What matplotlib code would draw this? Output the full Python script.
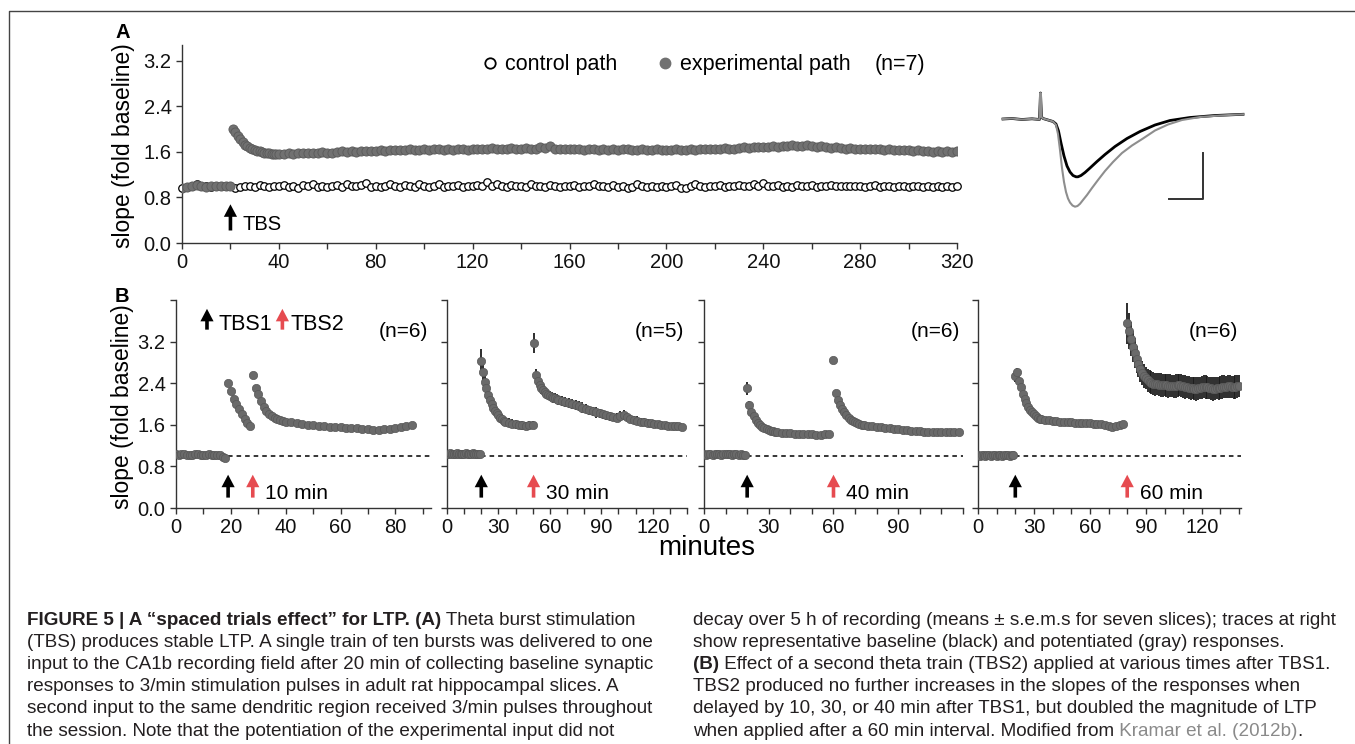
import numpy as np
import matplotlib
matplotlib.use('Agg')
import matplotlib.pyplot as plt
from matplotlib.lines import Line2D

W, H = 1355, 744
plt.rcParams['font.family'] = ['Liberation Sans', 'DejaVu Sans']

# ---------------- Panel A data ----------------
ctrl_t = np.arange(0, 321, 2)
ctrl_y = [0.97, 0.99, 1.01, 1.04, 1.01, 1.00, 0.99, 1.00, 1.01, 1.00, 1.00, 0.96, 0.99, 1.01, 1.00, 0.99, 1.02, 1.00, 0.98, 1.00,
          1.01, 1.02, 0.99, 1.01, 0.97, 1.02, 1.00, 1.03, 0.98, 1.01, 0.99, 1.01, 1.02, 0.99, 1.03, 1.00, 1.01, 1.02, 1.05, 0.99,
          1.00, 0.98, 1.01, 1.03, 1.00, 0.99, 1.02, 1.01, 0.98, 1.03, 1.01, 0.99, 1.00, 1.03, 0.98, 1.01, 1.00, 1.02, 0.99, 1.01,
          1.00, 1.02, 1.01, 1.07, 1.00, 1.03, 1.01, 0.99, 1.02, 1.00, 1.01, 0.99, 1.03, 1.00, 1.01, 0.98, 1.02, 1.01, 0.99, 1.01,
          1.00, 1.02, 0.99, 1.01, 1.00, 1.03, 1.00, 1.01, 0.99, 1.02, 0.98, 1.01, 0.97, 0.99, 1.03, 1.00, 0.98, 1.01, 0.99, 1.00,
          0.98, 1.00, 1.02, 0.97, 0.97, 1.01, 1.04, 1.00, 0.99, 1.01, 1.00, 1.02, 0.99, 1.01, 1.00, 1.02, 1.01, 1.00, 1.03, 1.01,
          1.05, 1.01, 1.00, 1.02, 0.99, 1.01, 0.99, 1.02, 1.00, 1.01, 1.02, 0.99, 1.01, 1.00, 1.02, 1.01, 1.00, 1.01, 1.00, 1.01,
          1.00, 0.99, 1.01, 1.02, 0.99, 1.00, 1.01, 0.98, 1.00, 1.01, 0.99, 1.00, 1.01, 0.98, 1.00, 0.99, 1.01, 0.99, 1.00, 0.99,
          1.00]
exp_t = np.r_[np.arange(0, 21, 2), np.arange(21, 41), np.arange(42, 321, 2)]
exp_y = [0.97, 0.99, 1.00, 1.02, 1.00, 0.99, 1.00, 1.00, 1.01, 1.00, 1.00,
         2.01, 1.95, 1.88, 1.82, 1.77, 1.73, 1.70, 1.67, 1.65, 1.63, 1.62, 1.61, 1.60, 1.59, 1.58, 1.58, 1.57, 1.57, 1.56, 1.57,
         1.57, 1.58, 1.57, 1.59, 1.58, 1.58, 1.59, 1.58, 1.60, 1.59, 1.59, 1.60, 1.61, 1.60, 1.61, 1.60, 1.61, 1.62, 1.61, 1.62,
         1.63, 1.62, 1.63, 1.64, 1.63, 1.64, 1.65, 1.64, 1.64, 1.65, 1.64, 1.65, 1.66, 1.64, 1.65, 1.64, 1.66, 1.65, 1.64, 1.66,
         1.65, 1.66, 1.65, 1.67, 1.66, 1.65, 1.66, 1.67, 1.66, 1.65, 1.67, 1.66, 1.65, 1.68, 1.67, 1.70, 1.66, 1.65, 1.66, 1.65,
         1.66, 1.65, 1.64, 1.66, 1.65, 1.64, 1.65, 1.63, 1.65, 1.64, 1.66, 1.65, 1.64, 1.63, 1.65, 1.64, 1.63, 1.65, 1.64, 1.63,
         1.64, 1.65, 1.64, 1.63, 1.65, 1.64, 1.66, 1.65, 1.66, 1.65, 1.66, 1.67, 1.66, 1.65, 1.67, 1.68, 1.67, 1.68, 1.69, 1.68,
         1.69, 1.70, 1.69, 1.71, 1.70, 1.72, 1.71, 1.70, 1.72, 1.71, 1.69, 1.70, 1.68, 1.67, 1.68, 1.67, 1.66, 1.67, 1.66, 1.65,
         1.66, 1.65, 1.66, 1.65, 1.64, 1.65, 1.64, 1.63, 1.64, 1.63, 1.62, 1.63, 1.62, 1.61, 1.60, 1.61, 1.60, 1.61, 1.60, 1.61]
tbsA_time = 20

# representative traces (arbitrary units, inverted y)
trace_bk_x = [1003, 1012, 1022, 1032, 1039.5, 1040.5, 1041.5, 1043, 1048, 1053, 1056, 1058.5, 1061, 1064, 1067, 1070, 1073,
              1076, 1078, 1081, 1085, 1090, 1097, 1105, 1115, 1127, 1140, 1155, 1170, 1190, 1215, 1243]
trace_bk_y = [119, 118.5, 119.5, 118.8, 119.5, 93, 117, 118.5, 120, 121.5, 124, 131, 143, 156, 166, 172, 175.5,
              176.8, 176.8, 175.5, 172.5, 168, 161.5, 154.5, 146.5, 138.5, 131.5, 125, 120.5, 117.5, 115.5, 114.3]
trace_gr_x = [1003, 1012, 1022, 1032, 1039.5, 1040.5, 1041.5, 1043, 1048, 1053, 1056, 1058, 1060, 1062, 1064, 1066, 1068,
              1070, 1072.5, 1075, 1077.5, 1080, 1083, 1087, 1092, 1098, 1105, 1113, 1122, 1132, 1143, 1155, 1168, 1182,
              1200, 1220, 1243]
trace_gr_y = [119, 118.5, 119.5, 118.8, 119.5, 93, 117, 118.5, 120, 121.5, 125, 134, 150, 168, 182, 192, 198.5,
              202.5, 205.5, 206.7, 206, 203.8, 200, 195, 188, 180, 171, 162, 153, 145.5, 138.5, 130.5, 124.5, 120,
              117, 115.5, 114.3]
scalebar_x = [1169.3, 1203.3, 1203.3]
scalebar_y = [199.3, 199.3, 152.7]

# ---------------- Panel B data ----------------
b1_t = np.r_[np.arange(0, 41), np.arange(42, 87, 2)]
b1_y = [1.03, 1.02, 1.03, 1.04, 1.02, 1.01, 1.02, 1.03, 1.03, 1.02, 1.01, 1.02, 1.03, 1.02, 1.01, 1.02, 1.01, 0.99, 0.97,
        2.40, 2.25, 2.10, 2.00, 1.90, 1.80, 1.71, 1.63, 1.57,
        2.55, 2.31, 2.19, 2.05, 1.94, 1.86, 1.80, 1.76, 1.73, 1.71, 1.69, 1.67, 1.66,
        1.65, 1.63, 1.61, 1.60, 1.59, 1.58, 1.57, 1.56, 1.56, 1.55, 1.54, 1.53, 1.53, 1.52, 1.51, 1.50, 1.50, 1.51,
        1.52, 1.53, 1.55, 1.57, 1.59]
b1_e = [0.02, 0.02, 0.02, 0.02, 0.02, 0.02, 0.02, 0.02, 0.02, 0.02, 0.02, 0.02, 0.02, 0.02, 0.02, 0.02, 0.02, 0.02, 0.02,
        0.06, 0.05, 0.05, 0.04, 0.04, 0.04, 0.03, 0.03, 0.03,
        0.07, 0.05, 0.05, 0.04, 0.04, 0.04, 0.03, 0.03, 0.03, 0.03, 0.03, 0.03, 0.03,
        0.03, 0.03, 0.03, 0.03, 0.03, 0.03, 0.03, 0.03, 0.03, 0.03, 0.03, 0.03, 0.03, 0.03, 0.03, 0.03, 0.03, 0.03,
        0.03, 0.03, 0.03, 0.03, 0.03]

b2_t = np.r_[np.arange(0, 35), np.arange(36, 51, 2), np.arange(51, 66), np.arange(67, 138, 2)]
b2_y = [1.04, 1.03, 1.05, 1.04, 1.03, 1.04, 1.05, 1.03, 1.04, 1.04, 1.03, 1.05, 1.04, 1.03, 1.04, 1.05, 1.04, 1.03, 1.03, 1.04,
        2.82, 2.62, 2.42, 2.30, 2.18, 2.08, 2.00, 1.93, 1.87, 1.82, 1.78, 1.74, 1.71, 1.68, 1.66,
        1.64, 1.62, 1.61, 1.60, 1.59, 1.58, 1.59, 1.60,
        3.17, 2.55, 2.45, 2.36, 2.30, 2.26, 2.23, 2.20, 2.17, 2.15, 2.13, 2.12, 2.11, 2.10, 2.08,
        2.06, 2.04, 2.02, 2.00, 1.98, 1.96, 1.93, 1.91, 1.88, 1.86, 1.84, 1.82, 1.80, 1.78, 1.76, 1.75, 1.74, 1.77,
        1.79, 1.75, 1.71, 1.69, 1.68, 1.66, 1.65, 1.64, 1.63, 1.62, 1.61, 1.60, 1.59, 1.58, 1.58, 1.57, 1.57, 1.56]
b2_e = [0.03, 0.03, 0.03, 0.03, 0.03, 0.03, 0.03, 0.03, 0.03, 0.03, 0.03, 0.03, 0.03, 0.03, 0.03, 0.03, 0.03, 0.03, 0.03, 0.03,
        0.23, 0.18, 0.15, 0.14, 0.13, 0.12, 0.12, 0.11, 0.11, 0.10, 0.10, 0.10, 0.09, 0.09, 0.09,
        0.09, 0.09, 0.09, 0.08, 0.09, 0.08, 0.09, 0.08,
        0.19, 0.13, 0.12, 0.11, 0.11, 0.10, 0.10, 0.10, 0.10, 0.10, 0.10, 0.10, 0.10, 0.09, 0.09,
        0.09, 0.10, 0.09, 0.10, 0.09, 0.09, 0.10, 0.09, 0.09, 0.09, 0.10, 0.09, 0.09, 0.09, 0.09, 0.08, 0.09, 0.10,
        0.09, 0.08, 0.08, 0.08, 0.08, 0.07, 0.08, 0.07, 0.07, 0.08, 0.07, 0.07, 0.07, 0.07, 0.06, 0.07, 0.06, 0.06]

b3_t = np.r_[np.arange(0, 35), np.arange(36, 59, 2), np.arange(60, 75), np.arange(76, 119, 2)]
b3_y = [1.03, 1.02, 1.03, 1.03, 1.02, 1.03, 1.04, 1.03, 1.02, 1.03, 1.03, 1.04, 1.03, 1.02, 1.03, 1.03, 1.02, 1.03, 1.02, 1.02,
        2.30, 1.99, 1.85, 1.76, 1.69, 1.64, 1.60, 1.56, 1.54, 1.52, 1.50, 1.49, 1.48, 1.47, 1.46,
        1.45, 1.44, 1.44, 1.43, 1.43, 1.42, 1.42, 1.42, 1.41, 1.41, 1.42, 1.42,
        2.85, 2.22, 2.08, 1.98, 1.90, 1.84, 1.78, 1.74, 1.70, 1.67, 1.65, 1.63, 1.61, 1.60, 1.59,
        1.58, 1.57, 1.56, 1.55, 1.54, 1.53, 1.52, 1.51, 1.50, 1.50, 1.49, 1.48, 1.48, 1.47, 1.47, 1.46, 1.46, 1.46,
        1.46, 1.47, 1.47, 1.47]
b3_e = [0.02, 0.02, 0.02, 0.02, 0.02, 0.02, 0.02, 0.02, 0.02, 0.02, 0.02, 0.02, 0.02, 0.02, 0.02, 0.02, 0.02, 0.02, 0.02, 0.02,
        0.12, 0.06, 0.05, 0.05, 0.04, 0.04, 0.03, 0.03, 0.03, 0.03, 0.03, 0.03, 0.03, 0.03, 0.03,
        0.03, 0.03, 0.03, 0.03, 0.03, 0.03, 0.03, 0.03, 0.03, 0.03, 0.03, 0.03,
        0.05, 0.05, 0.04, 0.04, 0.04, 0.03, 0.03, 0.03, 0.03, 0.03, 0.03, 0.03, 0.03, 0.03, 0.03,
        0.03, 0.03, 0.03, 0.03, 0.03, 0.03, 0.03, 0.03, 0.03, 0.03, 0.03, 0.03, 0.03, 0.03, 0.03, 0.03, 0.03, 0.03,
        0.03, 0.03, 0.03, 0.03]

b4_t = np.r_[np.arange(0, 35), np.arange(36, 79, 2), np.arange(80, 141)]
b4_y = [1.01, 1.00, 1.02, 1.01, 1.00, 1.01, 1.02, 1.00, 1.01, 1.01, 1.00, 1.02, 1.01, 1.00, 1.01, 1.02, 1.01, 1.00, 1.01, 1.01,
        2.53, 2.62, 2.45, 2.32, 2.20, 2.10, 2.01, 1.94, 1.88, 1.84, 1.80, 1.77, 1.74, 1.72, 1.71,
        1.70, 1.69, 1.68, 1.67, 1.66, 1.66, 1.65, 1.65, 1.64, 1.64, 1.63, 1.63, 1.63, 1.62, 1.62, 1.61, 1.59, 1.57,
        1.56, 1.57, 1.59, 1.61,
        3.55, 3.40, 3.25, 3.10, 2.98, 2.86, 2.76, 2.67, 2.60, 2.54, 2.50, 2.46, 2.43, 2.41, 2.39,
        2.38, 2.38, 2.37, 2.37, 2.36, 2.36, 2.36, 2.35, 2.35, 2.35,
        2.34, 2.35, 2.36, 2.36, 2.35, 2.34, 2.33, 2.32, 2.31, 2.30,
        2.30, 2.29, 2.29, 2.30, 2.31, 2.32, 2.33, 2.33, 2.32, 2.31,
        2.30, 2.29, 2.29, 2.30, 2.30, 2.31, 2.32, 2.33, 2.33, 2.34,
        2.34, 2.33, 2.32, 2.33, 2.34, 2.34]
b4_e = [0.02, 0.02, 0.02, 0.02, 0.02, 0.02, 0.02, 0.02, 0.02, 0.02, 0.02, 0.02, 0.02, 0.02, 0.02, 0.02, 0.02, 0.02, 0.02, 0.02,
        0.10, 0.08, 0.07, 0.06, 0.05, 0.05, 0.04, 0.04, 0.04, 0.04, 0.04, 0.04, 0.04, 0.04, 0.04,
        0.04, 0.04, 0.04, 0.04, 0.04, 0.04, 0.04, 0.04, 0.04, 0.04, 0.04, 0.04, 0.04, 0.04, 0.04, 0.04, 0.04, 0.04,
        0.04, 0.04, 0.04, 0.04,
        0.40, 0.35, 0.32, 0.30, 0.28, 0.26, 0.25, 0.24, 0.23, 0.23, 0.22, 0.22, 0.22, 0.22, 0.22,
        0.22, 0.21, 0.22, 0.23, 0.22, 0.21, 0.22, 0.23, 0.22, 0.21,
        0.22, 0.23, 0.22, 0.21, 0.22, 0.22, 0.23, 0.21, 0.22, 0.22,
        0.21, 0.22, 0.23, 0.22, 0.21, 0.22, 0.22, 0.23, 0.22, 0.21,
        0.22, 0.23, 0.22, 0.21, 0.22, 0.22, 0.23, 0.22, 0.21, 0.22,
        0.22, 0.21, 0.22, 0.23, 0.22, 0.21]

b_times = [b1_t, b2_t, b3_t, b4_t]
b_means = [b1_y, b2_y, b3_y, b4_y]
b_sems = [b1_e, b2_e, b3_e, b4_e]
tbs1_times = [19, 20, 20, 20]
tbs2_times = [28, 50.5, 60, 80]
interval_labels = ['10 min', '30 min', '40 min', '60 min']
n_labels = ['(n=6)', '(n=5)', '(n=6)', '(n=6)']

# ---------------- styling ----------------
AXC = '#333333'
GRAY = '#6a6a6a'
GRAY_A = '#717171'
RED = '#E64B50'
ECOL = '#1c1c1c'

fig = plt.figure(figsize=(W / 100, H / 100), dpi=100)


def add_ax(l, t, r, b):
    return fig.add_axes([l / W, 1 - b / H, (r - l) / W, (b - t) / H])


def style(ax):
    for s in ['top', 'right']:
        ax.spines[s].set_visible(False)
    for s in ['left', 'bottom']:
        ax.spines[s].set_color(AXC)
        ax.spines[s].set_linewidth(1.0)
    ax.tick_params(which='both', direction='out', length=4.5, width=1.0, color=AXC,
                   labelsize=14.5, pad=3, labelcolor='#111111')
    ax.patch.set_alpha(0)


def arrow(ax, x, y0, y1, color):
    ax.annotate('', xy=(x, y1), xytext=(x, y0),
                arrowprops=dict(arrowstyle='simple,head_length=0.9,head_width=0.95,tail_width=0.26',
                                color=color, shrinkA=0, shrinkB=0, mutation_scale=10, lw=0))


# ---------------- Panel A ----------------
axA = add_ax(182, 45, 957, 243)
style(axA)
axA.set_xlim(0, 320)
axA.set_ylim(0, 3.48)
axA.set_xticks(np.arange(0, 321, 40))
axA.set_xticks(np.arange(20, 320, 40), minor=True)
axA.set_yticks([0, 0.8, 1.6, 2.4, 3.2])
axA.set_yticklabels(['0.0', '0.8', '1.6', '2.4', '3.2'])
axA.plot(ctrl_t, ctrl_y, 'o', ls='none', ms=5.4, mfc='white', mec='black', mew=0.9, clip_on=False, zorder=3)
axA.plot(exp_t, exp_y, 'o', ls='none', ms=6.6, mfc=GRAY_A, mec='#5a5a5a', mew=0.6, zorder=4)
axA.set_ylabel('slope (fold baseline)', fontsize=16.5)
axA.yaxis.set_label_coords(-0.0606, 0.49)
arrow(axA, tbsA_time, 0.22, 0.68, 'black')
axA.text(tbsA_time + 5, 0.33, 'TBS', fontsize=14.5, va='center', ha='left')

h1 = Line2D([], [], marker='o', ls='none', ms=7.5, mfc='white', mec='black', mew=1.3)
h2 = Line2D([], [], marker='o', ls='none', ms=7.5, mfc=GRAY_A, mec=GRAY_A)
axA.legend([h1, h2], ['control path', 'experimental path'], ncol=2, frameon=False, loc='center left',
           bbox_to_anchor=(0.389, 0.899), fontsize=15.5, handlelength=0.6, handletextpad=0.4,
           columnspacing=1.9, borderpad=0, borderaxespad=0)
axA.text(0.894, 0.899, '(n=7)', transform=axA.transAxes, fontsize=15.5, va='center', ha='left')

# traces inset
axT = add_ax(1000, 85, 1250, 215)
axT.set_xlim(1000, 1250)
axT.set_ylim(215, 85)
axT.axis('off')
axT.plot(trace_bk_x, trace_bk_y, color='black', lw=2.0, solid_joinstyle='round')
axT.plot(trace_gr_x, trace_gr_y, color='#8e8e8e', lw=1.5, solid_joinstyle='round')
axT.plot(scalebar_x, scalebar_y, color='#333333', lw=1.4)

# ---------------- Panel B ----------------
b_boxes = [(176, 431), (447, 687), (704, 963), (978, 1241)]
b_xmax = [93, 140, 120, 141]
b_major = [20, 30, 30, 30]
axB = []
for i, (l, r) in enumerate(b_boxes):
    ax = add_ax(l, 300, r, 508)
    style(ax)
    ax.set_xlim(0, b_xmax[i])
    ax.set_ylim(0, 4.0)
    ax.set_xticks(np.arange(0, b_xmax[i] - 5, b_major[i]))
    ax.set_xticks(np.arange(0, b_xmax[i] + 0.1, 10), minor=True)
    ax.set_yticks([0, 0.8, 1.6, 2.4, 3.2, 4.0])
    if i == 0:
        ax.set_yticklabels(['0.0', '0.8', '1.6', '2.4', '3.2', ''])
        ax.set_ylabel('slope (fold baseline)', fontsize=16.5)
        ax.yaxis.set_label_coords(-0.165, 0.485)
    else:
        ax.set_yticklabels([])
    ax.hlines(1.0, tbs1_times[i], b_xmax[i], colors='black', linestyles=(0, (3, 2.6)), lw=1.1, zorder=1)
    ax.errorbar(b_times[i], b_means[i], yerr=b_sems[i], fmt='none', ecolor=ECOL, elinewidth=1.3,
                capsize=0, zorder=2)
    ax.plot(b_times[i], b_means[i], 'o', ls='none', ms=6.0, mfc=GRAY, mec='#585858', mew=0.5, zorder=3)
    arrow(ax, tbs1_times[i], 0.2, 0.64, 'black')
    arrow(ax, tbs2_times[i], 0.2, 0.64, RED)
    ax.annotate(interval_labels[i], xy=(tbs2_times[i], 0.28), xytext=(9, 0), textcoords='offset points',
                fontsize=15, va='center', ha='left')
    ax.text(0.99, 0.85, n_labels[i], transform=ax.transAxes, fontsize=15, ha='right', va='center')
    axB.append(ax)

# TBS1 / TBS2 key in first B panel
arrow(axB[0], 11.3, 3.43, 3.83, 'black')
axB[0].text(15.5, 3.53, 'TBS1', fontsize=15.5, va='center', ha='left')
arrow(axB[0], 38.8, 3.43, 3.83, RED)
axB[0].text(41.8, 3.53, 'TBS2', fontsize=15.5, va='center', ha='left')

fig.text(707 / W, 1 - 548 / H, 'minutes', fontsize=20, ha='center', va='center')
fig.text(123 / W, 1 - 32 / H, 'A', fontsize=14.5, fontweight='bold', ha='center', va='center')
fig.text(122 / W, 1 - 296 / H, 'B', fontsize=14.5, fontweight='bold', ha='center', va='center')

# frame
fig.add_artist(Line2D([9 / W, 9 / W, 1.0], [0, 1 - 10.5 / H, 1 - 10.5 / H], transform=fig.transFigure,
                      color='#444444', lw=1.0))

# ---------------- caption ----------------
cap_left = [
    [("FIGURE 5 | A \u201cspaced trials effect\u201d for LTP. (A)", 'b'), (" Theta burst stimulation", 'n')],
    [("(TBS) produces stable LTP. A single train of ten bursts was delivered to one", 'n')],
    [("input to the CA1b recording field after 20 min of collecting baseline synaptic", 'n')],
    [("responses to 3/min stimulation pulses in adult rat hippocampal slices. A", 'n')],
    [("second input to the same dendritic region received 3/min pulses throughout", 'n')],
    [("the session. Note that the potentiation of the experimental input did not", 'n')],
]
cap_right = [
    [("decay over 5 h of recording (means \u00b1 s.e.m.s for seven slices); traces at right", 'n')],
    [("show representative baseline (black) and potentiated (gray) responses.", 'n')],
    [("(B)", 'b'), (" Effect of a second theta train (TBS2) applied at various times after TBS1.", 'n')],
    [("TBS2 produced no further increases in the slopes of the responses when", 'n')],
    [("delayed by 10, 30, or 40 min after TBS1, but doubled the magnitude of LTP", 'n')],
    [("when applied after a 60 min interval. Modified from", 'n'), (" Kramar et al. (2012b)", 'g'), (".", 'n')],
]

axC = fig.add_axes([0, 0, 1, 1])
axC.axis('off')
axC.set_xlim(0, W)
axC.set_ylim(H, 0)
CAP_FS = 13.6
CAP_C = '#231f20'


def cap_props(kind):
    if kind == 'b':
        return dict(fontweight='bold', color=CAP_C)
    if kind == 'g':
        return dict(color='#8a8a8a')
    return dict(color=CAP_C)


for x0, lines in [(27, cap_left), (693, cap_right)]:
    for k, pieces in enumerate(lines):
        y0 = 625 + 22.1 * k
        prev = None
        for txt, kind in pieces:
            if prev is None:
                prev = axC.text(x0, y0, txt, fontsize=CAP_FS, ha='left', va='baseline', **cap_props(kind))
            else:
                prev = axC.annotate(txt, xy=(1, 0), xycoords=prev, fontsize=CAP_FS, ha='left',
                                    va='bottom', **cap_props(kind))

fig.savefig('out.png', dpi=100)
